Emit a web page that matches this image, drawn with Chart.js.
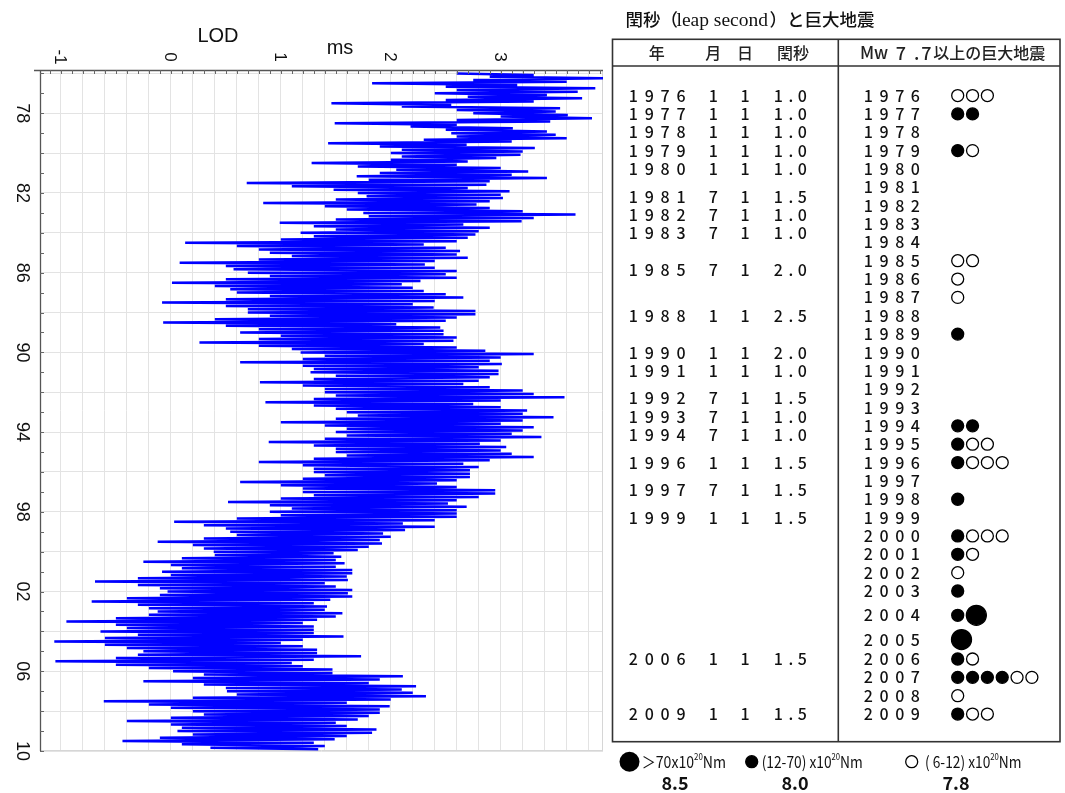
<!DOCTYPE html>
<html><head><meta charset="utf-8">
<script src="https://cdn.jsdelivr.net/npm/chart.js@4.4.1/dist/chart.umd.min.js"></script>
<style>
html,body{margin:0;padding:0;background:#fff;width:1065px;height:793px;overflow:hidden}
#lodWrap{position:absolute;left:0;top:0;width:605px;height:793px}
#tblWrap{position:absolute;left:605px;top:0;width:460px;height:793px}
</style></head><body>
<div id="lodWrap"><canvas id="lod" width="605" height="793"></canvas></div>
<div id="tblWrap"><canvas id="tbl" width="460" height="793"></canvas></div>
<script>
// ---------------- DATA ----------------
// LOD (ms), monthly samples from 1976 Jan
const lodStartYear = 1976;
const lodMs = [
 2.6, 3.3, 2.9, 3.93, 2.75, 3.6, 1.83, 3.15, 2.5, 3.86, 2.6, 3.7,      // 1976
 2.4, 3.42, 2.7, 3.74, 2.5, 3.3, 1.46, 2.55, 2.1, 3.54, 2.6, 3.5,      // 1977
 2.75, 3.61, 3.0, 3.83, 2.6, 3.45, 1.49, 2.6, 2.18, 3.11, 2.5, 3.42,   // 1978
 2.55, 3.5, 2.6, 3.6, 2.3, 3.1, 1.43, 2.69, 1.9, 3.31, 2.1, 3.2,       // 1979
 2.0, 3.18, 2.1, 2.96, 2.0, 2.7, 1.28, 2.6, 1.7, 3.0, 2.05, 3.25,      // 1980
 1.9, 3.1, 1.69, 3.42, 1.8, 2.9, 0.69, 2.87, 1.1, 2.7, 1.48, 3.08,     // 1981
 1.7, 3.0, 1.78, 3.02, 1.5, 2.9, 0.84, 2.78, 1.4, 2.9, 1.6, 3.2,       // 1982
 1.75, 3.68, 1.8, 3.3, 1.5, 3.19, 0.99, 2.66, 1.3, 2.9, 1.5, 2.8,      // 1983
 1.18, 2.77, 1.3, 2.7, 1.0, 2.6, 0.13, 2.3, 0.6, 2.5, 0.8, 2.63,       // 1984
 0.9, 2.6, 1.1, 2.7, 0.8, 2.4, 0.08, 2.31, 0.5, 2.4, 0.57, 2.6,        // 1985
 0.7, 2.5, 0.9, 2.6, 0.5, 2.27, 0.01, 2.1, 0.4, 2.2, 0.54, 2.3,        // 1986
 0.6, 2.5, 0.9, 2.66, 0.5, 2.4, -0.08, 2.2, 0.5, 2.39, 0.7, 2.77,      // 1987
 0.7, 2.77, 0.9, 2.6, 0.4, 2.5, -0.07, 2.05, 0.5, 2.45, 0.8, 2.48,     // 1988
 0.63, 2.48, 1.0, 2.6, 0.8, 2.57, 0.26, 2.3, 0.8, 2.6, 1.1, 2.86,      // 1989
 1.18, 3.3, 1.4, 3.0, 1.2, 2.9, 0.63, 3.01, 1.2, 2.8, 1.3, 2.98,       // 1990
 1.27, 2.98, 1.5, 2.9, 1.3, 2.8, 0.81, 2.66, 1.2, 2.9, 1.4, 3.2,       // 1991
 1.4, 3.3, 1.5, 3.58, 1.3, 3.0, 0.86, 2.75, 1.3, 3.0, 1.5, 3.24,       // 1992
 1.6, 3.2, 1.7, 3.48, 1.5, 3.2, 1.0, 3.0, 1.4, 3.3, 1.6, 3.2,          // 1993
 1.5, 3.1, 1.6, 3.37, 1.4, 3.0, 0.89, 2.81, 1.3, 3.05, 1.5, 3.0,       // 1994
 1.5, 3.1, 1.6, 3.3, 1.3, 2.9, 0.8, 2.66, 1.2, 2.8, 1.3, 2.72,         // 1995
 1.3, 2.72, 1.4, 2.72, 1.2, 2.6, 0.63, 2.42, 1.0, 2.6, 1.2, 2.95,      // 1996
 1.2, 2.95, 1.3, 2.8, 1.0, 2.6, 0.52, 2.52, 0.9, 2.69, 1.1, 2.6,       // 1997
 0.9, 2.6, 1.0, 2.6, 0.6, 2.4, 0.03, 2.11, 0.3, 2.4, 0.5, 2.13,        // 1998
 0.54, 1.93, 0.6, 2.0, 0.3, 1.9, -0.12, 1.92, 0.2, 1.8, 0.3, 1.7,      // 1999
 0.39, 1.48, 0.4, 1.55, 0.1, 1.5, -0.25, 1.58, 0.0, 1.5, 0.1, 1.65,    // 2000
 -0.08, 1.65, 0.0, 1.6, -0.3, 1.61, -0.69, 1.4, -0.3, 1.5, -0.1, 1.65, // 2001
 -0.03, 1.61, -0.1, 1.65, -0.4, 1.45, -0.72, 1.3, -0.3, 1.42, -0.2, 1.4, // 2002
 -0.12, 1.56, -0.2, 1.5, -0.5, 1.33, -0.95, 1.2, -0.5, 1.3, -0.4, 1.3,   // 2003
 -0.64, 1.3, -0.3, 1.57, -0.6, 1.2, -1.06, 1.0, -0.6, 1.2, -0.4, 1.33,   // 2004
 -0.25, 1.33, -0.3, 1.73, -0.5, 1.3, -1.05, 1.1, -0.5, 1.2, -0.2, 1.47,  // 2005
 0.02, 1.47, 0.3, 2.11, 0.2, 1.9, -0.25, 1.8, 0.3, 2.23, 0.5, 2.1,       // 2006
 0.51, 2.2, 0.6, 2.32, 0.2, 2.0, -0.61, 1.6, -0.2, 1.99, 0.0, 1.9,       // 2007
 0.2, 1.9, 0.3, 1.8, 0.0, 1.7, -0.4, 1.5, 0.0, 1.6, 0.1, 1.87,           // 2008
 0.06, 1.83, 0.2, 1.6, -0.1, 1.49, -0.44, 1.3, 0.1, 1.4, 0.36, 1.34      // 2009
];
const lodTickValues = [-1, 0, 1, 2, 3];
const lodTickLabels = ['-1', '0', '1', '2', '3'];
const yearTickValues = [1978, 1982, 1986, 1990, 1994, 1998, 2002, 2006, 2010];
const yearTickLabels = ['78', '82', '86', '90', '94', '98', '02', '06', '10'];

// Leap seconds table
const leapYears   = [1976,1977,1978,1979,1980,1981,1982,1983,1985,1988,1990,1991,1992,1993,1994,1996,1997,1999,2006,2009];
const leapMonths  = [1,1,1,1,1,7,7,7,7,1,1,1,7,7,7,1,7,1,1,1];
const leapDays    = [1,1,1,1,1,1,1,1,1,1,1,1,1,1,1,1,1,1,1,1];
const leapSeconds = [1.0,1.0,1.0,1.0,1.0,1.5,1.0,1.0,2.0,2.5,2.0,1.0,1.5,1.0,1.0,1.5,1.5,1.5,1.5,1.5];

// Great earthquakes Mw>=7.7 : B = >70e20 Nm, F = 12-70e20 Nm, O = 6-12e20 Nm
const quakeYears = [1976,1977,1978,1979,1980,1981,1982,1983,1984,1985,1986,1987,1988,1989,1990,1991,1992,
                    1993,1994,1995,1996,1997,1998,1999,2000,2001,2002,2003,2004,2005,2006,2007,2008,2009];
const quakeMarks = ['OOO','FF','','FO','','','','','','OO','O','O','','F','','','',
                    '','FF','FOO','FOOO','','F','','FOOO','FO','O','F','FB','B','FO','FFFFOO','O','FOO'];

// ---------------- LEFT CHART: LOD ----------------
const lodPoints = lodMs.map((v, i) => ({ x: v, y: lodStartYear + i / 12 }));

const xGrid = []; for (let k = -5; k <= 19; k++) xGrid.push(k / 5);
const yGrid = []; for (let yr = 1976; yr <= 2010; yr += 2) yGrid.push(yr);

const lodDecor = {
  id: 'lodDecor',
  beforeDatasetsDraw(chart) {
    const { ctx, chartArea: a } = chart;
    ctx.save();
    ctx.strokeStyle = '#d6d6d6'; ctx.lineWidth = 1;
    ctx.beginPath();
    ctx.moveTo(a.right - 0.5, a.top); ctx.lineTo(a.right - 0.5, a.bottom);
    ctx.moveTo(a.left, a.bottom - 0.5); ctx.lineTo(a.right, a.bottom - 0.5);
    ctx.stroke();
    ctx.restore();
  },
  afterDatasetsDraw(chart) {
    const { ctx, chartArea: a, scales: { x, y } } = chart;
    ctx.save();
    ctx.strokeStyle = '#555'; ctx.lineWidth = 1.3;
    ctx.beginPath();
    ctx.moveTo(a.left - 6, a.top + 0.5); ctx.lineTo(a.right, a.top + 0.5);
    ctx.moveTo(a.left + 0.5, a.top); ctx.lineTo(a.left + 0.5, a.bottom);
    ctx.stroke();
    ctx.lineWidth = 1; ctx.strokeStyle = '#666';
    ctx.beginPath();
    for (let k = -11; k <= 39; k++) {
      const px = Math.round(x.getPixelForValue(k / 10)) + 0.5;
      ctx.moveTo(px, a.top); ctx.lineTo(px, a.top + 4);
    }
    for (let yr = 1976; yr <= 2010; yr++) {
      const py = Math.round(y.getPixelForValue(yr)) + 0.5;
      ctx.moveTo(a.left, py); ctx.lineTo(a.left + 4, py);
    }
    ctx.stroke();
    // tick labels (rotated)
    ctx.fillStyle = '#111';
    ctx.font = '17px "Liberation Sans", Arial, sans-serif';
    ctx.textAlign = 'center'; ctx.textBaseline = 'middle';
    lodTickValues.forEach((v, i) => {
      ctx.save();
      ctx.translate(x.getPixelForValue(v) - 1, 57);
      ctx.rotate(Math.PI / 2);
      ctx.fillText(lodTickLabels[i], 0, 0);
      ctx.restore();
    });
    ctx.font = '18px "Liberation Sans", Arial, sans-serif';
    yearTickValues.forEach((v, i) => {
      ctx.save();
      ctx.translate(22, y.getPixelForValue(v));
      ctx.rotate(Math.PI / 2);
      ctx.fillText(yearTickLabels[i], 0, 0);
      ctx.restore();
    });
    // axis titles
    ctx.font = '20px "Liberation Sans", Arial, sans-serif';
    ctx.fillText('LOD', 218, 36);
    ctx.fillText('ms', 340, 48);
    ctx.restore();
  }
};

new Chart(document.getElementById('lod'), {
  type: 'scatter',
  data: { datasets: [{
    data: lodPoints, showLine: true, borderColor: '#0000ff', borderWidth: 2.5,
    pointRadius: 0, pointHoverRadius: 0, tension: 0, fill: false
  }] },
  options: {
    responsive: false, animation: false, devicePixelRatio: 1,
    layout: { padding: { left: 40, top: 70, right: 2, bottom: 42 } },
    plugins: { legend: { display: false }, tooltip: { enabled: false } },
    scales: {
      x: {
        type: 'linear', position: 'top', min: -1.19, max: 3.93,
        afterBuildTicks: s => { s.ticks = xGrid.map(v => ({ value: v })); },
        ticks: { display: false }, border: { display: false },
        grid: { color: '#e3e3e3', lineWidth: 1, drawTicks: false }
      },
      y: {
        type: 'linear', reverse: true, min: 1975.83, max: 2010.0,
        afterBuildTicks: s => { s.ticks = yGrid.map(v => ({ value: v })); },
        ticks: { display: false }, border: { display: false },
        grid: { color: '#e3e3e3', lineWidth: 1, drawTicks: false }
      }
    }
  },
  plugins: [lodDecor]
});

// ---------------- RIGHT CHART: table ----------------
const rowPos = [];
quakeYears.forEach((yr, r) => {
  if (r === 0) { rowPos.push(0); return; }
  const big = quakeMarks[r].includes('B'), prevBig = quakeMarks[r - 1].includes('B');
  rowPos.push(rowPos[r - 1] + (big ? 1.323 : (prevBig ? 1.059 : 1)));
});
const SLOT = 15.6, RS = 6, RB = 10, GAP = 3.6;
const quakePoints = [];
quakeYears.forEach((yr, r) => {
  let xv = 0, prevR = 0;
  [...quakeMarks[r]].forEach((c, k) => {
    const rad = c === 'B' ? RB : RS;
    xv = k === 0 ? (rad - RS) / SLOT : xv + (prevR + rad + GAP) / SLOT;
    quakePoints.push({ x: xv, y: rowPos[r], kind: c, rad });
    prevR = rad;
  });
});

function drawChars(ctx, str, centers, y) {
  [...str].forEach((ch, i) => ctx.fillText(ch, centers[i], y));
}
function drawRuns(ctx, runs, x0, y, sx) {
  ctx.save();
  ctx.translate(x0, y);
  ctx.scale(sx, 1);
  let x = 0;
  runs.forEach(([t, size, dy]) => {
    ctx.font = size + 'px "Noto Sans CJK JP", sans-serif';
    ctx.fillText(t, x, dy);
    x += ctx.measureText(t).width;
  });
  ctx.restore();
}

const tableDecor = {
  id: 'tableDecor',
  beforeDatasetsDraw(chart) {
    const { ctx, scales: { y } } = chart;
    ctx.save();
    // title
    ctx.fillStyle = '#111'; ctx.textBaseline = 'middle'; ctx.textAlign = 'left';
    ctx.font = '500 17.5px "Noto Sans CJK JP", sans-serif';
    ctx.fillText('閏秒（', 20.5, 19.5);
    ctx.font = '19.5px "Liberation Serif", serif';
    ctx.fillText('leap second', 71.5, 20.5);
    ctx.font = '500 17.5px "Noto Sans CJK JP", sans-serif';
    ctx.fillText('）と巨大地震', 164.5, 19.5);
    // frame
    ctx.strokeStyle = '#333'; ctx.lineWidth = 1.6;
    ctx.strokeRect(7.5, 39.3, 447.5, 702.4);
    ctx.beginPath();
    ctx.moveTo(7.5, 66); ctx.lineTo(455, 66);
    ctx.moveTo(233.3, 39.3); ctx.lineTo(233.3, 741.7);
    ctx.stroke();
    // header
    ctx.fillStyle = '#222'; ctx.textAlign = 'center';
    ctx.font = '500 16px "Noto Sans CJK JP", sans-serif';
    ctx.fillText('年', 51.7, 53); ctx.fillText('月', 108.3, 53);
    ctx.fillText('日', 140, 53); ctx.fillText('閏秒', 188, 53);
    ctx.textAlign = 'left';
    ctx.font = '500 17px "Noto Sans CJK JP", sans-serif';
    ctx.fillText('Mw', 255, 53);
    ctx.textAlign = 'center';
    ctx.font = '500 18px "Noto Sans CJK JP", sans-serif';
    ctx.fillText('7', 295.8, 53); ctx.fillText('.', 311.7, 53); ctx.fillText('7', 321.5, 53);
    ctx.textAlign = 'left';
    ctx.font = '500 16px "Noto Sans CJK JP", sans-serif';
    ctx.fillText('以上の巨大地震', 328.3, 53);
    // leap second rows
    ctx.textAlign = 'center';
    ctx.fillStyle = '#111';
    ctx.font = '500 16px "Noto Sans CJK JP", sans-serif';
    leapYears.forEach((yr, i) => {
      const r = quakeYears.indexOf(yr);
      const v = leapMonths[i] === 7 ? (rowPos[r] + rowPos[r + 1]) / 2 : rowPos[r];
      const py = y.getPixelForValue(v);
      drawChars(ctx, String(yr), [28.3, 44.2, 60.1, 76], py);
      ctx.fillText(String(leapMonths[i]), 108.3, py);
      ctx.fillText(String(leapDays[i]), 140, py);
      drawChars(ctx, leapSeconds[i].toFixed(1), [173.3, 186, 197.3], py);
    });
    // quake year rows
    quakeYears.forEach((yr, r) => {
      drawChars(ctx, String(yr), [263.3, 279, 294.7, 310.4], y.getPixelForValue(rowPos[r]));
    });
    // legend
    const ly = 761.7;
    ctx.fillStyle = '#000'; ctx.strokeStyle = '#000'; ctx.lineWidth = 1.3;
    ctx.beginPath(); ctx.arc(24.5, ly, RB, 0, Math.PI * 2); ctx.fill();
    ctx.beginPath(); ctx.arc(146.7, ly, RS, 0, Math.PI * 2); ctx.fill(); ctx.stroke();
    ctx.beginPath(); ctx.arc(306.7, ly, RS, 0, Math.PI * 2); ctx.stroke();
    ctx.textAlign = 'left'; ctx.fillStyle = '#111';
    drawRuns(ctx, [['＞', 16, 0], ['70x10', 16, 0], ['20', 9, -5], ['Nm', 16, 0]], 36.7, ly, 0.88);
    drawRuns(ctx, [['(12-70) x10', 16, 0], ['20', 9, -5], ['Nm', 16, 0]], 156.7, ly, 0.86);
    drawRuns(ctx, [['( 6-12) x10', 16, 0], ['20', 9, -5], ['Nm', 16, 0]], 320, ly, 0.86);
    ctx.textAlign = 'center';
    ctx.font = 'bold 18px "Noto Sans CJK JP", sans-serif';
    ctx.fillText('8.5', 70, 783.5); ctx.fillText('8.0', 190, 783.5); ctx.fillText('7.8', 351, 783.5);
    ctx.restore();
  }
};

new Chart(document.getElementById('tbl'), {
  type: 'scatter',
  data: { datasets: [{
    data: quakePoints,
    pointRadius: c => c.raw ? c.raw.rad : RS,
    pointHoverRadius: c => c.raw ? c.raw.rad : RS,
    pointBackgroundColor: c => (c.raw && c.raw.kind === 'O') ? '#fff' : '#000',
    pointBorderColor: '#000', pointBorderWidth: 1.3, showLine: false
  }] },
  options: {
    responsive: false, animation: false, devicePixelRatio: 1,
    layout: { padding: 0 },
    plugins: { legend: { display: false }, tooltip: { enabled: false } },
    scales: {
      x: { type: 'linear', display: false, min: -23.01, max: 6.47 },
      y: { type: 'linear', display: false, reverse: true, min: -4.590, max: 37.391 }
    }
  },
  plugins: [tableDecor]
});
</script>
</body></html>
